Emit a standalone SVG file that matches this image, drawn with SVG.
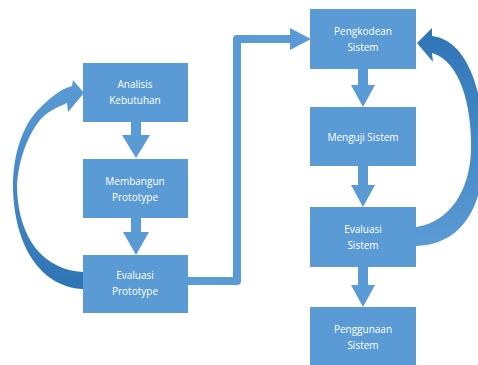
<svg xmlns="http://www.w3.org/2000/svg" width="478" height="365" viewBox="0 0 478 365">
<defs>
<style>
.box{fill:#5b9bd5;}
.lbl{font-family:"Open Sans","Liberation Sans",sans-serif;font-size:10px;fill:#ffffff;text-anchor:middle;}
.dn{fill:#5b9bd5;}
.elbow{fill:none;stroke:#5b9bd5;stroke-width:8;stroke-linejoin:round;}
</style>
<linearGradient id="gL" x1="0" y1="0" x2="0" y2="1">
<stop offset="0" stop-color="#5b9bd5"/>
<stop offset="1" stop-color="#2e75b6"/>
</linearGradient>
<linearGradient id="gR" x1="0" y1="0" x2="0" y2="1">
<stop offset="0" stop-color="#2e75b6"/>
<stop offset="1" stop-color="#5b9bd5"/>
</linearGradient>
</defs>
<rect width="478" height="365" fill="#ffffff"/>
<g id="connectors">
<path class="dn" d="M131 122 H141 V135 H150 L136 158 L122 135 H131 Z"/>
<path class="dn" d="M131 218 H141 V232 H149 L136 255 L123 232 H131 Z"/>
<path class="dn" d="M358 69 H368 V85 H375 L363 107 L351 85 H358 Z"/>
<path class="dn" d="M358 166 H368 V185 H375 L363 207 L351 185 H358 Z"/>
<path class="dn" d="M358 267 H368 V285 H375 L363 307 L351 285 H358 Z"/>
<path class="elbow" d="M188 281 H237 V39 H292"/>
<path class="dn" d="M290 28 L311 39 L290 50 Z"/>
<path fill="url(#gL)" d="M83 289 C40 287 14 245 13 187 C13 150 25 122 40 108 C50 98 60 89 72 86 L73 80 L84 93 L68 112 L67 103 C55 108 46 113 40 120 C28 135 18 160 17 187 C18 240 45 270 83 272 Z"/>
<path fill="url(#gR)" d="M416 227 C450 222 470 190 471 150 C472 110 462 62 432 53 L433 62 L417 43 L432 28 L432 36 C465 40 484 85 484 150 C484 210 460 245 416 246 Z"/>
</g>
<g id="n1"><rect class="box" x="83" y="63" width="105" height="59"/><text class="lbl" x="135" y="88">Analisis</text><text class="lbl" x="135" y="104">Kebutuhan</text></g>
<g id="n2"><rect class="box" x="83" y="159" width="105" height="59"/><text class="lbl" x="135" y="185">Membangun</text><text class="lbl" x="135" y="201">Prototype</text></g>
<g id="n3"><rect class="box" x="83" y="255" width="105" height="58"/><text class="lbl" x="135" y="279">Evaluasi</text><text class="lbl" x="135" y="295">Prototype</text></g>
<g id="n4"><rect class="box" x="310" y="9" width="106" height="60"/><text class="lbl" x="363" y="35">Pengkodean</text><text class="lbl" x="363" y="51">Sistem</text></g>
<g id="n5"><rect class="box" x="310" y="107" width="106" height="59"/><text class="lbl" x="363" y="141">Menguji Sistem</text></g>
<g id="n6"><rect class="box" x="310" y="207" width="106" height="60"/><text class="lbl" x="363" y="233">Evaluasi</text><text class="lbl" x="363" y="249">Sistem</text></g>
<g id="n7"><rect class="box" x="310" y="307" width="106" height="60"/><text class="lbl" x="363" y="333">Penggunaan</text><text class="lbl" x="363" y="349">Sistem</text></g>
</svg>
